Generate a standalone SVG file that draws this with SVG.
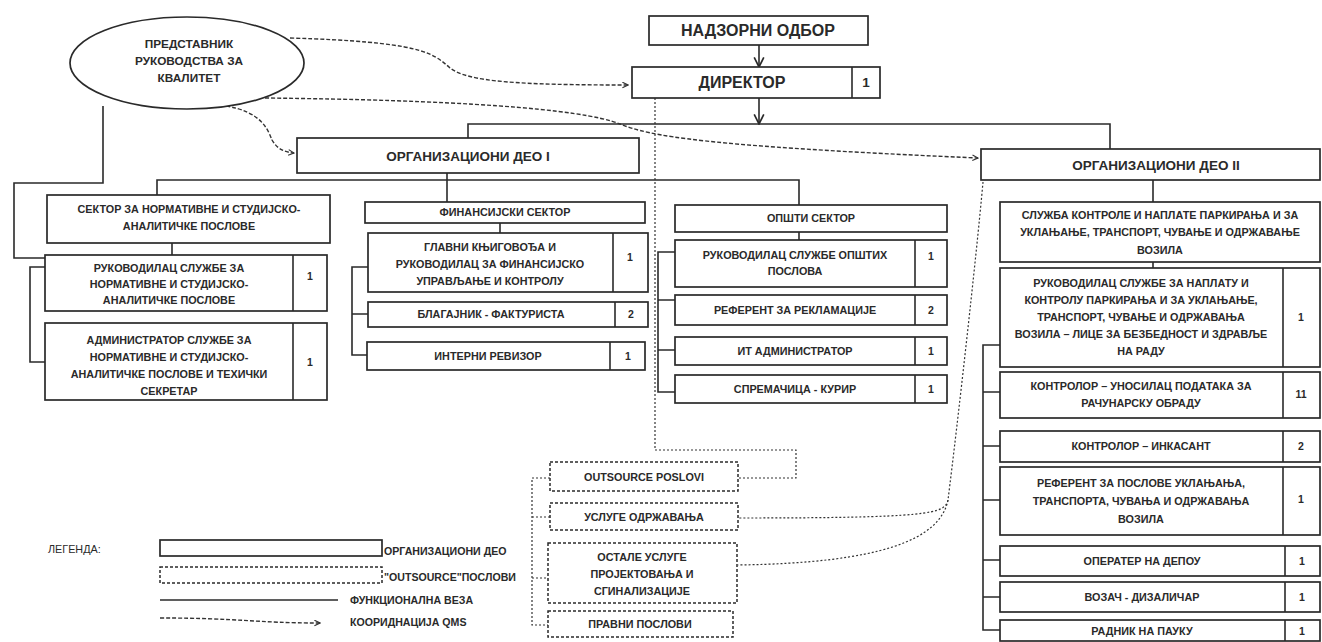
<svg xmlns="http://www.w3.org/2000/svg" width="1322" height="642" viewBox="0 0 1322 642">
<style>
.bx{fill:#fff;stroke:#2a2a2a;stroke-width:1.7}
.ds{fill:#fff;stroke:#2a2a2a;stroke-width:1.5;stroke-dasharray:3 2}
.ln{fill:none;stroke:#2a2a2a;stroke-width:1.6}
.dl{fill:none;stroke:#333;stroke-width:1.2;stroke-dasharray:2 2}
.qm{fill:none;stroke:#333;stroke-width:1.4;stroke-dasharray:4 2}
text{font-family:"Liberation Sans",Arial,sans-serif;font-weight:bold;fill:#2a2a2a;text-anchor:middle}
.t{font-size:10.8px}
.e{font-size:11.8px}
.h{font-size:16px}
.m{font-size:13.5px}
.n{font-size:10.5px}
.lg{font-size:10.8px;font-weight:normal;text-anchor:start}
.ll{font-size:10.6px;text-anchor:start}
</style>
<defs>
<marker id="oa" viewBox="0 0 10 10" refX="9" refY="5" markerWidth="7" markerHeight="7" orient="auto" markerUnits="userSpaceOnUse">
<path d="M1,1 L9,5 L1,9" fill="none" stroke="#333" stroke-width="1.6"/>
</marker>
<marker id="da" viewBox="0 0 10 10" refX="9" refY="5" markerWidth="12" markerHeight="12" orient="auto" markerUnits="userSpaceOnUse">
<path d="M1,1 L9,5 L1,9" fill="none" stroke="#2a2a2a" stroke-width="1.4"/>
</marker>
</defs>

<g id="connectors">
<path class="ln" d="M759,45 V67" marker-end="url(#da)"/>
<path class="ln" d="M759,98 V124" marker-end="url(#da)"/>
<path class="ln" d="M468,138 V124 H1110 V149"/>
<path class="ln" d="M447,173 V202"/>
<path class="ln" d="M157,195 V180 H799 V205"/>
<path class="ln" d="M103,106 V183 H14 V258 H45"/>
<path class="ln" d="M172,243 V255"/>
<path class="ln" d="M45,267 H30 V362 H45"/>
<path class="ln" d="M500,223 V233"/>
<path class="ln" d="M368,267 H352 V355 H368 M352,314 H368"/>
<path class="ln" d="M799,232 V240"/>
<path class="ln" d="M675,252 H658 V392 H675 M658,300 H675 M658,350 H675"/>
<path class="ln" d="M1153,180 V202"/>
<path class="ln" d="M1153,262 V268"/>
<path class="ln" d="M1000,345 H983 V630 H1000 M983,392 H1000 M983,446 H1000 M983,500 H1000 M983,560 H1000 M983,597 H1000"/>
<path class="dl" d="M655,98 V450 H796 V478 H738"/>
<path class="dl" d="M983,182 C976,260 958,420 948,500 C945,514 930,518 738,518"/>
<path class="dl" d="M948,500 C940,540 880,563 738,565"/>
<path class="dl" d="M550,478 H532 V625 H548 M532,517 H550 M532,578 H548"/>
<path class="qm" d="M290,38 C420,42 432,52 450,68 C468,82 520,85 628,85" marker-end="url(#oa)"/>
<path class="qm" d="M265,98 C450,100 580,108 620,124 C650,136 700,146 978,158" marker-end="url(#oa)"/>
<path class="qm" d="M226,106 C262,112 268,130 272,140 C278,150 285,152 294,153" marker-end="url(#oa)"/>
</g>

<g id="qms">
<ellipse cx="187" cy="63" rx="117" ry="46" class="bx"/>
<text class="e" x="189" y="48">ПРЕДСТАВНИК</text>
<text class="e" x="189" y="65">РУКОВОДСТВА ЗА</text>
<text class="e" x="189" y="82">КВАЛИТЕТ</text>
</g>

<g id="nadzorni">
<rect class="bx" x="649" y="16" width="219" height="29"/>
<text class="h" x="758" y="36">НАДЗОРНИ ОДБОР</text>
</g>
<g id="direktor">
<rect class="bx" x="632" y="67" width="248" height="31"/>
<line class="ln" x1="852" y1="67" x2="852" y2="98"/>
<text class="h" x="742" y="88">ДИРЕКТОР</text>
<text class="m" x="866" y="87">1</text>
</g>

<g id="deo1">
<rect class="bx" x="297" y="138" width="342" height="35"/>
<text class="m" x="468" y="161">ОРГАНИЗАЦИОНИ ДЕО I</text>
</g>
<g id="deo2">
<rect class="bx" x="981" y="149" width="339" height="31"/>
<text class="m" x="1156" y="170">ОРГАНИЗАЦИОНИ ДЕО II</text>
</g>

<g id="sektor-norm">
<rect class="bx" x="47" y="195" width="283" height="48"/>
<text class="t" x="189" y="213">СЕКТОР ЗА НОРМАТИВНЕ И СТУДИЈСКО-</text>
<text class="t" x="189" y="230">АНАЛИТИЧКЕ ПОСЛОВЕ</text>
</g>
<g id="ruk-norm">
<rect class="bx" x="45" y="255" width="282" height="56"/>
<line class="ln" x1="293" y1="255" x2="293" y2="311"/>
<text class="t" x="169" y="272">РУКОВОДИЛАЦ СЛУЖБЕ ЗА</text>
<text class="t" x="169" y="288">НОРМАТИВНЕ И СТУДИЈСКО-</text>
<text class="t" x="169" y="304">АНАЛИТИЧКЕ ПОСЛОВЕ</text>
<text class="n" x="310" y="280">1</text>
</g>
<g id="adm-norm">
<rect class="bx" x="45" y="323" width="282" height="77"/>
<line class="ln" x1="293" y1="323" x2="293" y2="400"/>
<text class="t" x="169" y="344">АДМИНИСТРАТОР СЛУЖБЕ ЗА</text>
<text class="t" x="169" y="361">НОРМАТИВНЕ И СТУДИЈСКО-</text>
<text class="t" x="169" y="378">АНАЛИТИЧКЕ ПОСЛОВЕ И ТЕХИЧКИ</text>
<text class="t" x="169" y="395">СЕКРЕТАР</text>
<text class="n" x="310" y="366">1</text>
</g>

<g id="fin">
<rect class="bx" x="365" y="202" width="280" height="21"/>
<text class="t" x="505" y="216">ФИНАНСИЈСКИ СЕКТОР</text>
</g>
<g id="glavni">
<rect class="bx" x="368" y="233" width="280" height="59"/>
<line class="ln" x1="613" y1="233" x2="613" y2="292"/>
<text class="t" x="490" y="251">ГЛАВНИ КЊИГОВОЂА И</text>
<text class="t" x="490" y="268">РУКОВОДИЛАЦ ЗА ФИНАНСИЈСКО</text>
<text class="t" x="490" y="285">УПРАВЉАЊЕ И КОНТРОЛУ</text>
<text class="n" x="630" y="261">1</text>
</g>
<g id="blag">
<rect class="bx" x="368" y="302" width="280" height="25"/>
<line class="ln" x1="615" y1="302" x2="615" y2="327"/>
<text class="t" x="491" y="318">БЛАГАЈНИК - ФАКТУРИСТА</text>
<text class="n" x="631" y="318">2</text>
</g>
<g id="interni">
<rect class="bx" x="367" y="342" width="278" height="28"/>
<line class="ln" x1="610" y1="342" x2="610" y2="370"/>
<text class="t" x="488" y="360">ИНТЕРНИ РЕВИЗОР</text>
<text class="n" x="628" y="360">1</text>
</g>

<g id="opsti">
<rect class="bx" x="675" y="205" width="272" height="27"/>
<text class="t" x="811" y="222">ОПШТИ СЕКТОР</text>
</g>
<g id="ruk-opsti">
<rect class="bx" x="675" y="240" width="272" height="47"/>
<line class="ln" x1="915" y1="240" x2="915" y2="287"/>
<text class="t" x="795" y="259">РУКОВОДИЛАЦ СЛУЖБЕ ОПШТИХ</text>
<text class="t" x="795" y="275">ПОСЛОВА</text>
<text class="n" x="931" y="260">1</text>
</g>
<g id="reklam">
<rect class="bx" x="675" y="295" width="272" height="30"/>
<line class="ln" x1="915" y1="295" x2="915" y2="325"/>
<text class="t" x="795" y="314">РЕФЕРЕНТ ЗА РЕКЛАМАЦИЈЕ</text>
<text class="n" x="931" y="314">2</text>
</g>
<g id="it">
<rect class="bx" x="675" y="337" width="272" height="28"/>
<line class="ln" x1="915" y1="337" x2="915" y2="365"/>
<text class="t" x="795" y="355">ИТ АДМИНИСТРАТОР</text>
<text class="n" x="931" y="355">1</text>
</g>
<g id="sprem">
<rect class="bx" x="675" y="375" width="272" height="28"/>
<line class="ln" x1="915" y1="375" x2="915" y2="403"/>
<text class="t" x="795" y="393">СПРЕМАЧИЦА - КУРИР</text>
<text class="n" x="931" y="393">1</text>
</g>

<g id="sluzba">
<rect class="bx" x="1000" y="202" width="320" height="60"/>
<text class="t" x="1160" y="219">СЛУЖБА КОНТРОЛЕ И НАПЛАТЕ ПАРКИРАЊА И ЗА</text>
<text class="t" x="1160" y="236">УКЛАЊАЊЕ, ТРАНСПОРТ, ЧУВАЊЕ И ОДРЖАВАЊЕ</text>
<text class="t" x="1160" y="254">ВОЗИЛА</text>
</g>
<g id="ruk-sluzbe">
<rect class="bx" x="1000" y="268" width="320" height="99"/>
<line class="ln" x1="1283" y1="268" x2="1283" y2="367"/>
<text class="t" x="1141" y="287">РУКОВОДИЛАЦ СЛУЖБЕ ЗА НАПЛАТУ И</text>
<text class="t" x="1141" y="304">КОНТРОЛУ ПАРКИРАЊА И ЗА УКЛАЊАЊЕ,</text>
<text class="t" x="1141" y="321">ТРАНСПОРТ, ЧУВАЊЕ И ОДРЖАВАЊА</text>
<text class="t" x="1141" y="338">ВОЗИЛА – ЛИЦЕ ЗА БЕЗБЕДНОСТ И ЗДРАВЉЕ</text>
<text class="t" x="1141" y="355">НА РАДУ</text>
<text class="n" x="1301" y="321">1</text>
</g>
<g id="unosilac">
<rect class="bx" x="1000" y="372" width="320" height="46"/>
<line class="ln" x1="1283" y1="372" x2="1283" y2="418"/>
<text class="t" x="1141" y="390">КОНТРОЛОР – УНОСИЛАЦ ПОДАТАКА ЗА</text>
<text class="t" x="1141" y="407">РАЧУНАРСКУ ОБРАДУ</text>
<text class="n" x="1301" y="398">11</text>
</g>
<g id="inkasant">
<rect class="bx" x="1000" y="431" width="320" height="31"/>
<line class="ln" x1="1283" y1="431" x2="1283" y2="462"/>
<text class="t" x="1141" y="450">КОНТРОЛОР – ИНКАСАНТ</text>
<text class="n" x="1301" y="450">2</text>
</g>
<g id="ref-uklanjanja">
<rect class="bx" x="1000" y="467" width="320" height="68"/>
<line class="ln" x1="1283" y1="467" x2="1283" y2="535"/>
<text class="t" x="1141" y="487">РЕФЕРЕНТ ЗА ПОСЛОВЕ УКЛАЊАЊА,</text>
<text class="t" x="1141" y="505">ТРАНСПОРТА, ЧУВАЊА И ОДРЖАВАЊА</text>
<text class="t" x="1141" y="523">ВОЗИЛА</text>
<text class="n" x="1301" y="503">1</text>
</g>
<g id="operater">
<rect class="bx" x="1000" y="546" width="320" height="30"/>
<line class="ln" x1="1285" y1="546" x2="1285" y2="576"/>
<text class="t" x="1142" y="565">ОПЕРАТЕР НА ДЕПОУ</text>
<text class="n" x="1302" y="565">1</text>
</g>
<g id="vozac">
<rect class="bx" x="1000" y="582" width="320" height="30"/>
<line class="ln" x1="1285" y1="582" x2="1285" y2="612"/>
<text class="t" x="1142" y="601">ВОЗАЧ - ДИЗАЛИЧАР</text>
<text class="n" x="1302" y="601">1</text>
</g>
<g id="radnik">
<rect class="bx" x="1000" y="620" width="320" height="21"/>
<line class="ln" x1="1285" y1="620" x2="1285" y2="641"/>
<text class="t" x="1142" y="635">РАДНИК НА ПАУКУ</text>
<text class="n" x="1302" y="635">1</text>
</g>

<g id="outsource">
<rect class="ds" x="550" y="462" width="188" height="29"/>
<text class="t" x="644" y="481">OUTSOURCE POSLOVI</text>
</g>
<g id="odrzavanje">
<rect class="ds" x="550" y="503" width="188" height="27"/>
<text class="t" x="644" y="521">УСЛУГЕ ОДРЖАВАЊА</text>
</g>
<g id="ostale">
<rect class="ds" x="548" y="543" width="189" height="60"/>
<text class="t" x="642" y="561">ОСТАЛЕ УСЛУГЕ</text>
<text class="t" x="642" y="578">ПРОЈЕКТОВАЊА И</text>
<text class="t" x="642" y="595">СГИНАЛИЗАЦИЈЕ</text>
</g>
<g id="pravni">
<rect class="ds" x="548" y="611" width="185" height="26"/>
<text class="t" x="640" y="628">ПРАВНИ ПОСЛОВИ</text>
</g>

<g id="legend">
<text class="lg" x="48" y="553">ЛЕГЕНДА:</text>
<rect class="bx" x="160" y="540" width="222" height="16"/>
<text class="ll" x="384" y="555">ОРГАНИЗАЦИОНИ ДЕО</text>
<rect class="ds" x="160" y="567" width="222" height="16"/>
<text class="ll" x="384" y="581">"OUTSOURCE"ПОСЛОВИ</text>
<line class="ln" x1="160" y1="600" x2="338" y2="600"/>
<text class="ll" x="350" y="604">ФУНКЦИОНАЛНА ВЕЗА</text>
<path class="qm" d="M160,618 C240,618 255,623 320,623" marker-end="url(#oa)"/>
<text class="ll" x="350" y="626">КООРИДНАЦИЈА QMS</text>
</g>
</svg>
